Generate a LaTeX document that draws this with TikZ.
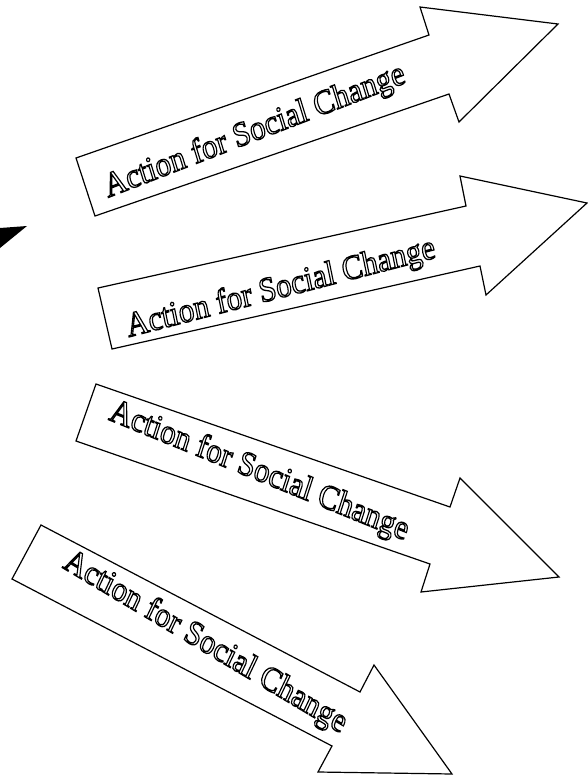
\documentclass[tikz,border=0pt]{standalone}
\usepackage{fontspec}
\setmainfont{Liberation Serif}
\newcommand\hollowtext[1]{\special{pdf:literal direct 1 Tr 1.15 w}#1\special{pdf:literal direct 0 Tr}}
\begin{document}
\begin{tikzpicture}[x=1pt,y=-1pt,
  arrowshape/.style={draw=black,fill=white,line width=1.2pt,line join=miter},
  arrowlabel/.style={font=\fontsize{31}{31}\selectfont, inner sep=0pt, yscale=1.12, transform shape}]
\useasboundingbox (0,0) rectangle (587,777);
% partial black arrow tip at left edge
\fill[black] (0,228) -- (27,226) -- (0,248) -- cycle;
% arrow 1
\draw[arrowshape] (76,158) -- (429,35) -- (420,7) -- (558,24) -- (459,122) -- (449,94) -- (95,216) -- cycle;
% arrow 2
\draw[arrowshape] (98,288) -- (466,206) -- (460,176) -- (587,203) -- (486,295) -- (480,266) -- (112,349) -- cycle;
% arrow 3
\draw[arrowshape] (96,384) -- (450,507) -- (460,478) -- (559,577) -- (421,592) -- (430,564) -- (76,441) -- cycle;
% arrow 4
\draw[arrowshape] (41,525) -- (360,692) -- (374,665) -- (452,774) -- (318,772) -- (332,746) -- (12,579) -- cycle;
% labels
\node[arrowlabel, rotate=19] (t1) at (255,132) {\hollowtext{Action for Social Change}};
\node[arrowlabel, rotate=13] (t2) at (281,289) {\hollowtext{Action for Social Change}};
\node[arrowlabel, rotate=-20] (t3) at (259,472) {\hollowtext{Action for Social Change}};
\node[arrowlabel, rotate=-28] (t4) at (205,643) {\hollowtext{Action for Social Change}};
\end{tikzpicture}
\end{document}
